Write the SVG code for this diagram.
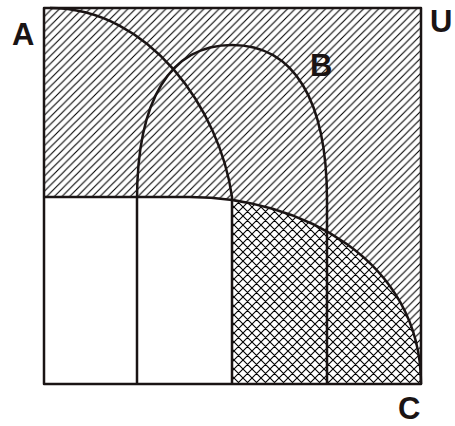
<svg xmlns="http://www.w3.org/2000/svg" width="455" height="426" viewBox="0 0 455 426">
<style>
.ln{fill:none;stroke:#1a1414;stroke-width:2.5;stroke-linejoin:round}
.lbl{font-family:"Liberation Sans",Arial,sans-serif;font-weight:bold;font-size:31px;fill:#1a1414}
</style>
<defs>
<pattern id="hatch" width="7.6" height="7.6" patternUnits="userSpaceOnUse">
<path d="M-1.9,1.9 L1.9,-1.9 M0,7.6 L7.6,0 M5.7,9.5 L9.5,5.7" stroke="#000" stroke-width="1.1"/>
</pattern>
<pattern id="cross" width="9" height="9" patternUnits="userSpaceOnUse">
<path d="M-2.25,2.25 L2.25,-2.25 M0,9 L9,0 M6.75,11.25 L11.25,6.75 M-2.25,6.75 L2.25,11.25 M0,0 L9,9 M6.75,-2.25 L11.25,2.25" stroke="#000" stroke-width="1.1"/>
</pattern>
<clipPath id="rightOfA"><rect x="232" y="190" width="190" height="195"/></clipPath>
</defs>
<g id="shading">
<path d="M44,8 H421 V384 C421,260 300,197 190,197 L44,197 Z" fill="url(#hatch)"/>
<path d="M190,197 C300,197 421,260 421,384 L44,384 L44,197 Z" fill="url(#cross)" clip-path="url(#rightOfA)"/>
</g>
<g id="set-U">
<rect x="44" y="8" width="377" height="376" class="ln"/>
</g>
<g id="set-A">
<path d="M50,8 C150,8 220,110 232,197 L232,384" class="ln"/>
</g>
<g id="set-B">
<path d="M137,384 L137,200 C137,100 170,45 232,45 C294,45 327,100 327,200 L327,384" class="ln"/>
</g>
<g id="set-C">
<path d="M44,197 L190,197 C300,197 421,260 421,384" class="ln"/>
</g>
<g id="labels">
<text class="lbl" x="12" y="45">A</text>
<text class="lbl" x="430" y="32">U</text>
<text class="lbl" x="310" y="76">B</text>
<text class="lbl" x="398" y="419">C</text>
</g>
</svg>
